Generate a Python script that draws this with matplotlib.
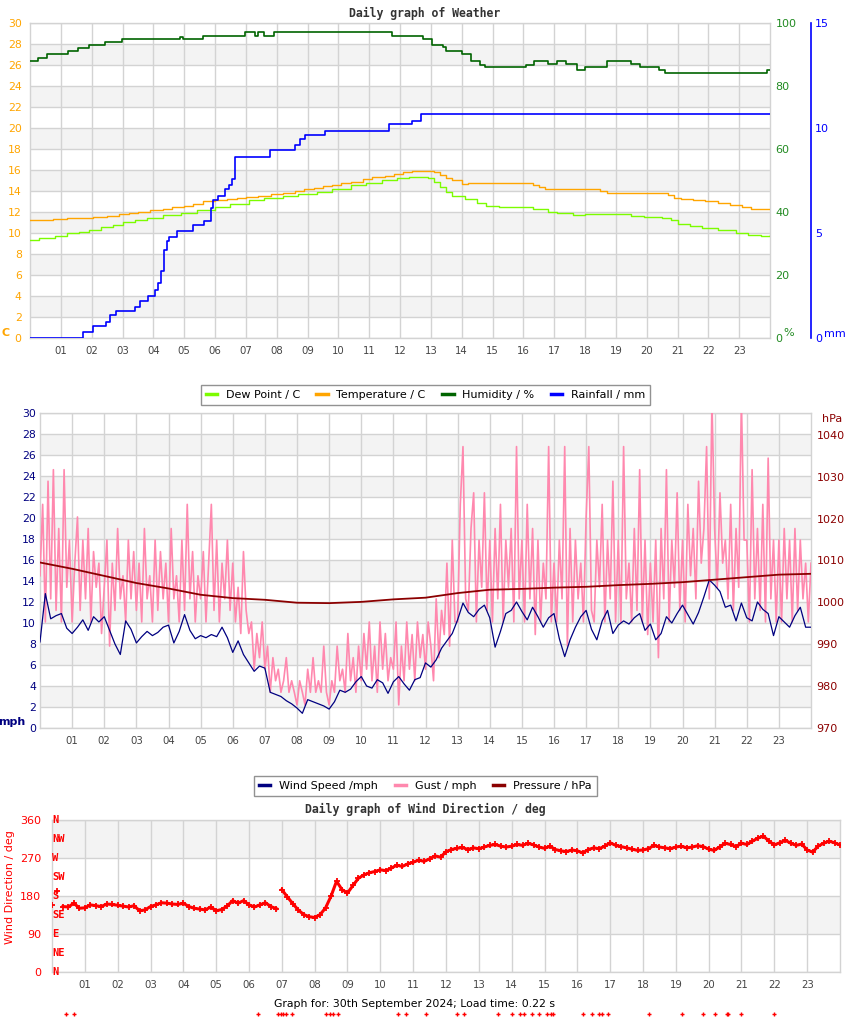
import matplotlib
matplotlib.use('Agg')
import matplotlib.pyplot as plt
from matplotlib.lines import Line2D
import numpy as np

# ---------------- data ----------------
hour_labels = [f'{h:02d}' for h in range(1, 24)]

temp_hours = [0, 0.75, 1.2, 2.05, 2.5, 2.9, 3.2, 3.5, 3.9, 4.3, 4.6, 5.0, 5.3, 5.6, 6.0, 6.4, 6.7, 7.0, 7.4, 7.8,
              8.2, 8.6, 8.9, 9.2, 9.5, 9.8, 10.1, 10.4, 10.8, 11.1, 11.5, 11.8, 12.1, 12.4, 12.9, 13.1, 13.3, 13.5, 13.7, 14.0,
              14.2, 16.3, 16.5, 16.7, 18.5, 18.7, 20.7, 20.9, 21.1, 21.5, 21.9, 22.3, 22.7, 23.1, 23.4, 24]
temp_vals = [11.2, 11.3, 11.4, 11.5, 11.6, 11.8, 11.9, 12.0, 12.2, 12.3, 12.5, 12.6, 12.8, 13.0, 13.1, 13.2, 13.3, 13.4, 13.5, 13.7,
             13.8, 14.0, 14.2, 14.3, 14.5, 14.6, 14.8, 14.9, 15.1, 15.3, 15.4, 15.6, 15.8, 15.9, 15.9, 15.8, 15.5, 15.2, 15.0, 14.7,
             14.8, 14.6, 14.4, 14.2, 14.0, 13.8, 13.6, 13.3, 13.2, 13.1, 13.0, 12.9, 12.7, 12.5, 12.3, 12.3]

dew_hours = [0, 0.3, 0.8, 1.2, 1.6, 1.9, 2.3, 2.7, 3.0, 3.4, 3.8, 4.3, 4.9, 5.4, 6.0, 6.5, 7.1, 7.6, 8.2, 8.7,
             9.3, 9.8, 10.4, 10.9, 11.4, 11.9, 12.3, 12.9, 13.1, 13.3, 13.5, 13.7, 14.1, 14.5, 14.8, 15.2, 16.3, 16.8, 17.1, 17.6,
             18.0, 19.5, 19.9, 20.5, 20.8, 21.0, 21.4, 21.8, 22.3, 22.9, 23.3, 23.7, 24]
dew_vals = [9.3, 9.5, 9.7, 10.0, 10.1, 10.3, 10.6, 10.8, 11.0, 11.2, 11.4, 11.7, 11.9, 12.2, 12.5, 12.8, 13.1, 13.3, 13.5, 13.7,
            13.9, 14.2, 14.6, 14.8, 15.0, 15.2, 15.3, 15.2, 14.9, 14.4, 13.9, 13.5, 13.2, 12.9, 12.6, 12.45, 12.3, 12.0, 11.9, 11.7,
            11.8, 11.6, 11.5, 11.4, 11.2, 10.9, 10.7, 10.5, 10.3, 10.0, 9.8, 9.75, 9.8]

hum_hours = [0, 0.25, 0.55, 1.23, 1.56, 1.9, 2.43, 3.0, 4.85, 4.95, 5.6, 6.96, 7.3, 7.4, 7.6, 7.9, 11.75, 12.75, 13.05, 13.4,
             13.5, 14.0, 14.3, 14.6, 14.75, 16.1, 16.35, 16.8, 17.1, 17.4, 17.75, 18.0, 18.7, 19.5, 19.8, 20.4, 20.6, 23.9, 24]
hum_vals = [87.9, 88.8, 90.2, 91.1, 92.0, 92.9, 93.9, 94.8, 95.6, 94.8, 95.8, 97.0, 95.8, 97.0, 95.8, 97.0, 95.8, 94.8, 93.0, 92.4,
            91.1, 90.2, 88.0, 86.7, 85.9, 86.7, 87.8, 87.0, 87.8, 87.0, 85.1, 85.9, 87.8, 87.0, 85.9, 85.1, 84.1, 85.0, 85.0]

rain_hours = [0, 1.72, 2.05, 2.46, 2.6, 2.78, 3.4, 3.58, 3.82, 4.07, 4.15, 4.25, 4.35, 4.45, 4.52, 4.77, 5.3, 5.65, 5.88, 5.95,
              6.1, 6.32, 6.45, 6.55, 6.65, 7.77, 8.6, 8.75, 8.93, 9.58, 11.65, 12.38, 12.67, 24]
rain_vals = [0.0, 0.27, 0.56, 0.75, 1.08, 1.27, 1.46, 1.75, 2.0, 2.3, 2.6, 3.2, 4.2, 4.6, 4.83, 5.1, 5.38, 5.57, 6.17, 6.57,
             6.76, 7.08, 7.29, 7.55, 8.63, 8.95, 9.19, 9.46, 9.67, 9.86, 10.17, 10.35, 10.65, 10.65]

# wind speed every 10 minutes (mph)
wind_speed = [
    8.2, 12.8, 10.4, 10.7, 10.9, 9.5,
    9.0, 9.6, 10.3, 9.3, 10.6, 10.1,
    10.6, 9.3, 8.0, 7.0, 10.2, 9.4,
    8.1, 8.7, 9.2, 8.8, 9.1, 9.6,
    9.8, 8.1, 9.2, 10.8, 9.3, 8.5,
    8.8, 8.6, 8.9, 8.7, 9.6, 8.6,
    7.2, 8.3, 7.0, 6.2, 5.4, 5.9,
    5.7, 3.4, 3.2, 3.0, 2.6, 2.3,
    1.9, 1.4, 2.7, 2.5, 2.3, 2.1,
    1.8, 2.5, 3.6, 3.4, 3.7, 4.4,
    4.9, 4.0, 3.8, 4.6, 4.3, 3.3,
    4.4, 4.9, 4.2, 3.6, 4.6, 4.8,
    6.2, 5.8, 6.5, 7.6, 8.3, 9.0,
    10.3, 11.9, 11.0, 10.6, 11.3, 11.7,
    10.5, 7.7, 9.2, 10.9, 11.2, 12.0,
    11.1, 10.3, 11.5, 10.6, 9.6, 10.5,
    10.9, 8.5, 6.8, 8.4, 9.6, 10.6,
    11.2, 9.4, 8.4, 10.2, 11.2, 9.0,
    9.8, 10.2, 9.9, 10.5, 10.9, 9.3,
    9.9, 8.4, 9.0, 10.6, 10.0, 10.9,
    11.7, 10.8, 9.9, 11.0, 12.5, 14.1,
    13.6, 13.0, 11.5, 11.7, 10.2, 11.9,
    10.5, 10.2, 12.0, 11.3, 10.9, 8.8,
    10.6, 10.1, 9.6, 10.7, 11.5, 9.6,
    9.6]

# gust every 5 minutes (mph)
gust = [
    14.5, 21.3, 10.1, 23.5, 12.3, 24.6, 11.2, 19.0, 10.1, 24.6, 13.4, 17.9,
    10.1, 15.7, 20.1, 11.2, 17.9, 12.3, 19.0, 10.1, 16.8, 13.4, 15.7, 9.0,
    13.4, 17.9, 7.8, 15.7, 11.2, 19.0, 12.3, 14.5, 10.1, 17.9, 12.3, 16.8,
    11.2, 15.7, 10.1, 19.0, 12.3, 14.5, 10.1, 17.9, 11.2, 16.8, 12.3, 15.7,
    10.1, 19.0, 12.3, 14.5, 10.1, 17.9, 11.2, 21.3, 12.3, 16.8, 10.1, 14.5,
    12.3, 16.8, 10.1, 15.7, 21.3, 11.2, 17.9, 10.1, 15.7, 12.3, 17.9, 11.2,
    15.7, 10.1, 13.4, 9.0, 16.8, 11.2, 9.0, 10.1, 5.6, 9.0, 6.7, 10.1,
    5.6, 7.8, 3.4, 6.7, 4.5, 5.6, 3.4, 4.5, 6.7, 3.4, 4.5, 3.4,
    2.2, 4.5, 3.4, 2.2, 5.6, 3.4, 6.7, 3.4, 4.5, 3.4, 7.8, 3.4,
    2.2, 4.5, 3.4, 7.8, 4.5, 5.6, 3.4, 9.0, 4.5, 6.7, 3.4, 7.8,
    4.5, 9.0, 5.6, 10.1, 4.5, 7.8, 3.4, 10.1, 5.6, 9.0, 4.5, 6.7,
    5.6, 10.1, 2.2, 7.8, 4.5, 10.1, 5.6, 8.9, 4.5, 10.1, 6.7, 8.9,
    5.6, 10.1, 7.8, 4.5, 12.3, 6.7, 11.2, 8.9, 15.7, 7.8, 17.9, 10.1,
    10.1, 21.3, 26.8, 12.3, 11.2, 19.0, 22.4, 10.1, 17.9, 13.4, 22.4, 11.2,
    17.9, 10.1, 19.0, 12.3, 21.3, 10.1, 17.9, 13.4, 19.0, 10.1, 26.8, 12.3,
    17.9, 10.1, 21.3, 12.3, 19.0, 8.9, 17.9, 10.1, 15.7, 12.3, 26.8, 10.1,
    15.7, 10.1, 17.9, 12.3, 26.8, 7.8, 19.0, 10.1, 17.9, 12.3, 15.7, 10.1,
    20.1, 26.8, 11.2, 10.1, 17.9, 13.4, 21.3, 10.1, 17.9, 12.3, 23.5, 10.1,
    17.9, 10.1, 26.8, 12.3, 15.7, 10.1, 19.0, 11.2, 24.6, 10.1, 17.9, 8.9,
    15.7, 10.1, 17.9, 6.7, 19.0, 12.3, 24.6, 10.1, 17.9, 13.4, 22.4, 11.2,
    17.9, 10.1, 21.3, 14.5, 19.0, 12.3, 23.5, 15.7, 19.0, 26.8, 12.3, 31.3,
    19.0, 13.4, 22.4, 15.7, 17.9, 12.3, 21.3, 11.2, 19.0, 13.4, 31.3, 17.9,
    17.9, 10.1, 24.6, 12.3, 19.0, 11.2, 21.3, 10.1, 25.7, 12.3, 17.9, 10.1,
    17.9, 10.1, 19.0, 12.3, 17.9, 10.1, 19.0, 11.2, 17.9, 12.3, 15.7, 10.1,
    15.7]

# pressure hourly (hPa)
pressure = [1009.5, 1008.0, 1006.3, 1004.6, 1003.3, 1001.8, 1001.0, 1000.6, 999.9, 999.8, 1000.1, 1000.7, 1001.1,
            1002.2, 1003.0, 1003.2, 1003.5, 1003.7, 1004.1, 1004.4, 1004.8, 1005.4, 1006.0, 1006.6, 1006.8]

# wind direction every 10 minutes (deg)
wind_dir = [
    158, 193, 155, 154, 163, 151,
    152, 159, 157, 155, 161, 160,
    158, 156, 154, 157, 145, 147,
    155, 159, 164, 163, 161, 160,
    163, 155, 151, 149, 147, 154,
    145, 148, 156, 169, 163, 169,
    159, 154, 159, 164, 155, 150,
    195, 178, 162, 147, 136, 131,
    129, 136, 152, 180, 215, 195,
    187, 205, 222, 230, 235, 238,
    242, 240, 246, 253, 250, 256,
    260, 265, 262, 268, 275, 272,
    285, 290, 293, 295, 290, 294,
    292, 296, 300, 302, 298, 296,
    298, 302, 300, 305, 301, 296,
    293, 298, 290, 287, 285, 289,
    287, 282, 290, 294, 292, 298,
    306, 300, 297, 294, 291, 288,
    289, 292, 300, 296, 294, 292,
    296, 298, 294, 296, 299, 297,
    291, 288, 296, 305, 302, 297,
    305, 302, 310, 317, 322, 310,
    301, 306, 312, 305, 300, 303,
    289, 284, 298, 305, 310, 306,
    301]

# stray direction points drawn below the chart
stray_hours = [0.43, 0.67, 6.26, 6.87, 6.96, 7.05, 7.14, 7.3, 8.36, 8.48, 8.57, 8.72, 10.55, 10.79, 11.4, 12.34, 12.55,
               13.59, 14.01, 14.26, 14.38, 14.62, 14.83, 15.08, 15.2, 15.26, 16.17, 16.44, 16.66, 16.75, 16.93, 18.18,
               19.18, 19.82, 20.18, 20.55, 20.6, 20.97, 22.0]
stray_value = -100

compass = ['N', 'NE', 'E', 'SE', 'S', 'SW', 'W', 'NW', 'N']

# ---------------- layout ----------------
W, H = 850, 1017
fig = plt.figure(figsize=(W / 100, H / 100), dpi=100)
fig.patch.set_facecolor('white')


def rect(l, t, r, b):
    return [l / W, 1 - b / H, (r - l) / W, (b - t) / H]


GRID = '#d3d3d3'
BAND = '#f3f3f3'
TICKC = '#444444'
ORANGE = '#FFA500'
DEWC = '#7CFC00'
HUMC = '#006400'
RAINC = '#0000FF'
NAVY = '#000080'
PINK = '#FF88AE'
DRED = '#8B0000'
RED = '#FF0000'

hours10 = np.arange(len(wind_speed)) / 6.0
hours5 = np.arange(len(gust)) / 12.0
hours60 = np.arange(len(pressure))


def style_base(ax, bands, yticks):
    ax.set_xlim(0, 24)
    for lo, hi in bands:
        ax.axhspan(lo, hi, color=BAND, zorder=0, lw=0)
    ax.set_xticks(range(1, 24))
    ax.set_xticklabels(hour_labels)
    ax.set_yticks(yticks)
    ax.grid(True, color=GRID, lw=1.0, zorder=1)
    ax.set_axisbelow(True)
    for s in ax.spines.values():
        s.set_color(GRID)
        s.set_linewidth(1.0)
    ax.tick_params(axis='x', length=0, pad=6, labelsize=7.3, labelcolor=TICKC)


# ---------- Panel 1: weather ----------
ax1 = fig.add_axes(rect(30, 23, 770, 338))
style_base(ax1, [(lo, lo + 2) for lo in range(2, 28, 4)], range(0, 31, 2))
ax1.set_ylim(0, 30)
ax1.tick_params(axis='y', length=0, pad=6, labelsize=7.8, labelcolor=ORANGE)
ax1.plot(temp_hours, temp_vals, color=ORANGE, lw=1.0, drawstyle='steps-post', zorder=3)
ax1.plot(dew_hours, dew_vals, color=DEWC, lw=1.0, drawstyle='steps-post', zorder=3)

ax1h = ax1.twinx()
ax1h.set_ylim(0, 100)
ax1h.set_yticks(range(0, 101, 20))
ax1h.tick_params(axis='y', length=0, pad=4, labelsize=8, labelcolor='#228B22')
for s in ax1h.spines.values():
    s.set_visible(False)
ax1h.plot(hum_hours, hum_vals, color=HUMC, lw=1.2, drawstyle='steps-post')

ax1r = ax1.twinx()
ax1r.set_ylim(0, 15)
ax1r.set_yticks([0, 5, 10, 15])
for k, s in ax1r.spines.items():
    s.set_visible(k == 'right')
ax1r.spines['right'].set_position(('axes', 1 + 41 / 740))
ax1r.spines['right'].set_color(RAINC)
ax1r.spines['right'].set_linewidth(1.2)
ax1r.tick_params(axis='y', length=0, pad=3, labelsize=8, labelcolor=RAINC)
ax1r.plot(rain_hours, rain_vals, color=RAINC, lw=1.2, drawstyle='steps-post')
ax1r.set_xlim(0, 24)

fig.text(425 / W, 1 - 13 / H, 'Daily graph of Weather', ha='center', va='center',
         family='DejaVu Sans Mono', weight='bold', fontsize=8.3, color='#333333')
fig.text(6 / W, 1 - 333 / H, 'C', ha='center', va='center', weight='bold', fontsize=8, color=ORANGE)
fig.text(789 / W, 1 - 333 / H, '%', ha='center', va='center', fontsize=8, color='#228B22')
fig.text(835 / W, 1 - 334 / H, 'mm', ha='center', va='center', fontsize=8, color=RAINC)

leg1 = fig.legend(handles=[Line2D([], [], color=c, lw=2.5) for c in [DEWC, ORANGE, HUMC, RAINC]],
                  labels=['Dew Point / C', 'Temperature / C', 'Humidity / %', 'Rainfall / mm'],
                  loc='center', bbox_to_anchor=(425.5 / W, 1 - 395 / H), ncol=4, frameon=True,
                  fancybox=False, edgecolor='#777777', fontsize=8, handlelength=1.0,
                  columnspacing=1.5, handletextpad=0.8, borderpad=0.45)
leg1.get_frame().set_linewidth(1.0)

# ---------- Panel 2: wind ----------
ax2 = fig.add_axes(rect(40, 413, 811, 728))
style_base(ax2, [(lo, lo + 2) for lo in range(2, 28, 4)], range(0, 31, 2))
ax2.set_ylim(0, 30)
ax2.tick_params(axis='y', length=0, pad=3, labelsize=7.8, labelcolor=NAVY)
ax2.plot(hours5, gust, color=PINK, lw=1.2, zorder=3)
ax2.plot(hours10, wind_speed, color=NAVY, lw=0.9, zorder=4)

ax2p = ax2.twinx()
ax2p.set_ylim(970, 970 + 315 / 4.19)
ax2p.set_yticks(range(970, 1041, 10))
for s in ax2p.spines.values():
    s.set_visible(False)
ax2p.tick_params(axis='y', length=0, pad=4, labelsize=8, labelcolor=DRED)
ax2p.plot(hours60, pressure, color=DRED, lw=1.3)
ax2p.set_xlim(0, 24)

fig.text(12 / W, 1 - 722 / H, 'mph', ha='center', va='center', weight='bold', fontsize=8, color=NAVY)
fig.text(832 / W, 1 - 419 / H, 'hPa', ha='center', va='center', fontsize=8, color=DRED)

leg2 = fig.legend(handles=[Line2D([], [], color=c, lw=2.5) for c in [NAVY, PINK, DRED]],
                  labels=['Wind Speed /mph', 'Gust / mph', 'Pressure / hPa'],
                  loc='center', bbox_to_anchor=(425.5 / W, 1 - 786 / H), ncol=3, frameon=True,
                  fancybox=False, edgecolor='#777777', fontsize=8, handlelength=1.0,
                  columnspacing=1.5, handletextpad=0.8, borderpad=0.45)
leg2.get_frame().set_linewidth(1.0)

# ---------- Panel 3: wind direction ----------
ax3 = fig.add_axes(rect(52, 820, 840, 972))
style_base(ax3, [(90, 180), (270, 360)], [0, 90, 180, 270, 360])
ax3.set_ylim(0, 360)
ax3.tick_params(axis='y', length=0, pad=8, labelsize=8, labelcolor=RED)
ax3.plot(hours10[2:42], wind_dir[2:42], ls='-', lw=2.2, marker='+', ms=3.8, mew=1.3, color=RED, zorder=4)
ax3.plot(hours10[42:], wind_dir[42:], ls='-', lw=2.2, marker='+', ms=3.8, mew=1.3, color=RED, zorder=4)
ax3.plot(hours10[:2], wind_dir[:2], ls='none', marker='+', ms=3.8, mew=1.3, color=RED, zorder=4)
ax3.plot(stray_hours, [stray_value] * len(stray_hours), ls='none', marker='+', ms=3, mew=1.0,
         color=RED, clip_on=False, zorder=4)
ax3.set_ylabel('Wind Direction / deg', color=RED, fontsize=8)
ax3.yaxis.set_label_coords(-(52 - 15) / 788, 0.56)
for i, lab in enumerate(compass):
    ax3.text(0.0, i * 45, lab, ha='left', va='center', family='DejaVu Sans Mono', weight='bold',
             fontsize=7.5, color=RED, clip_on=False, zorder=5)

fig.text(425 / W, 1 - 809 / H, 'Daily graph of Wind Direction / deg', ha='center', va='center',
         family='DejaVu Sans Mono', weight='bold', fontsize=8.3, color='#333333')
fig.text(415 / W, 1 - 1004 / H, 'Graph for: 30th September 2024; Load time: 0.22 s', ha='center',
         va='center', fontsize=7.8, color='black')

fig.savefig('out.png', dpi=100, facecolor='white')
